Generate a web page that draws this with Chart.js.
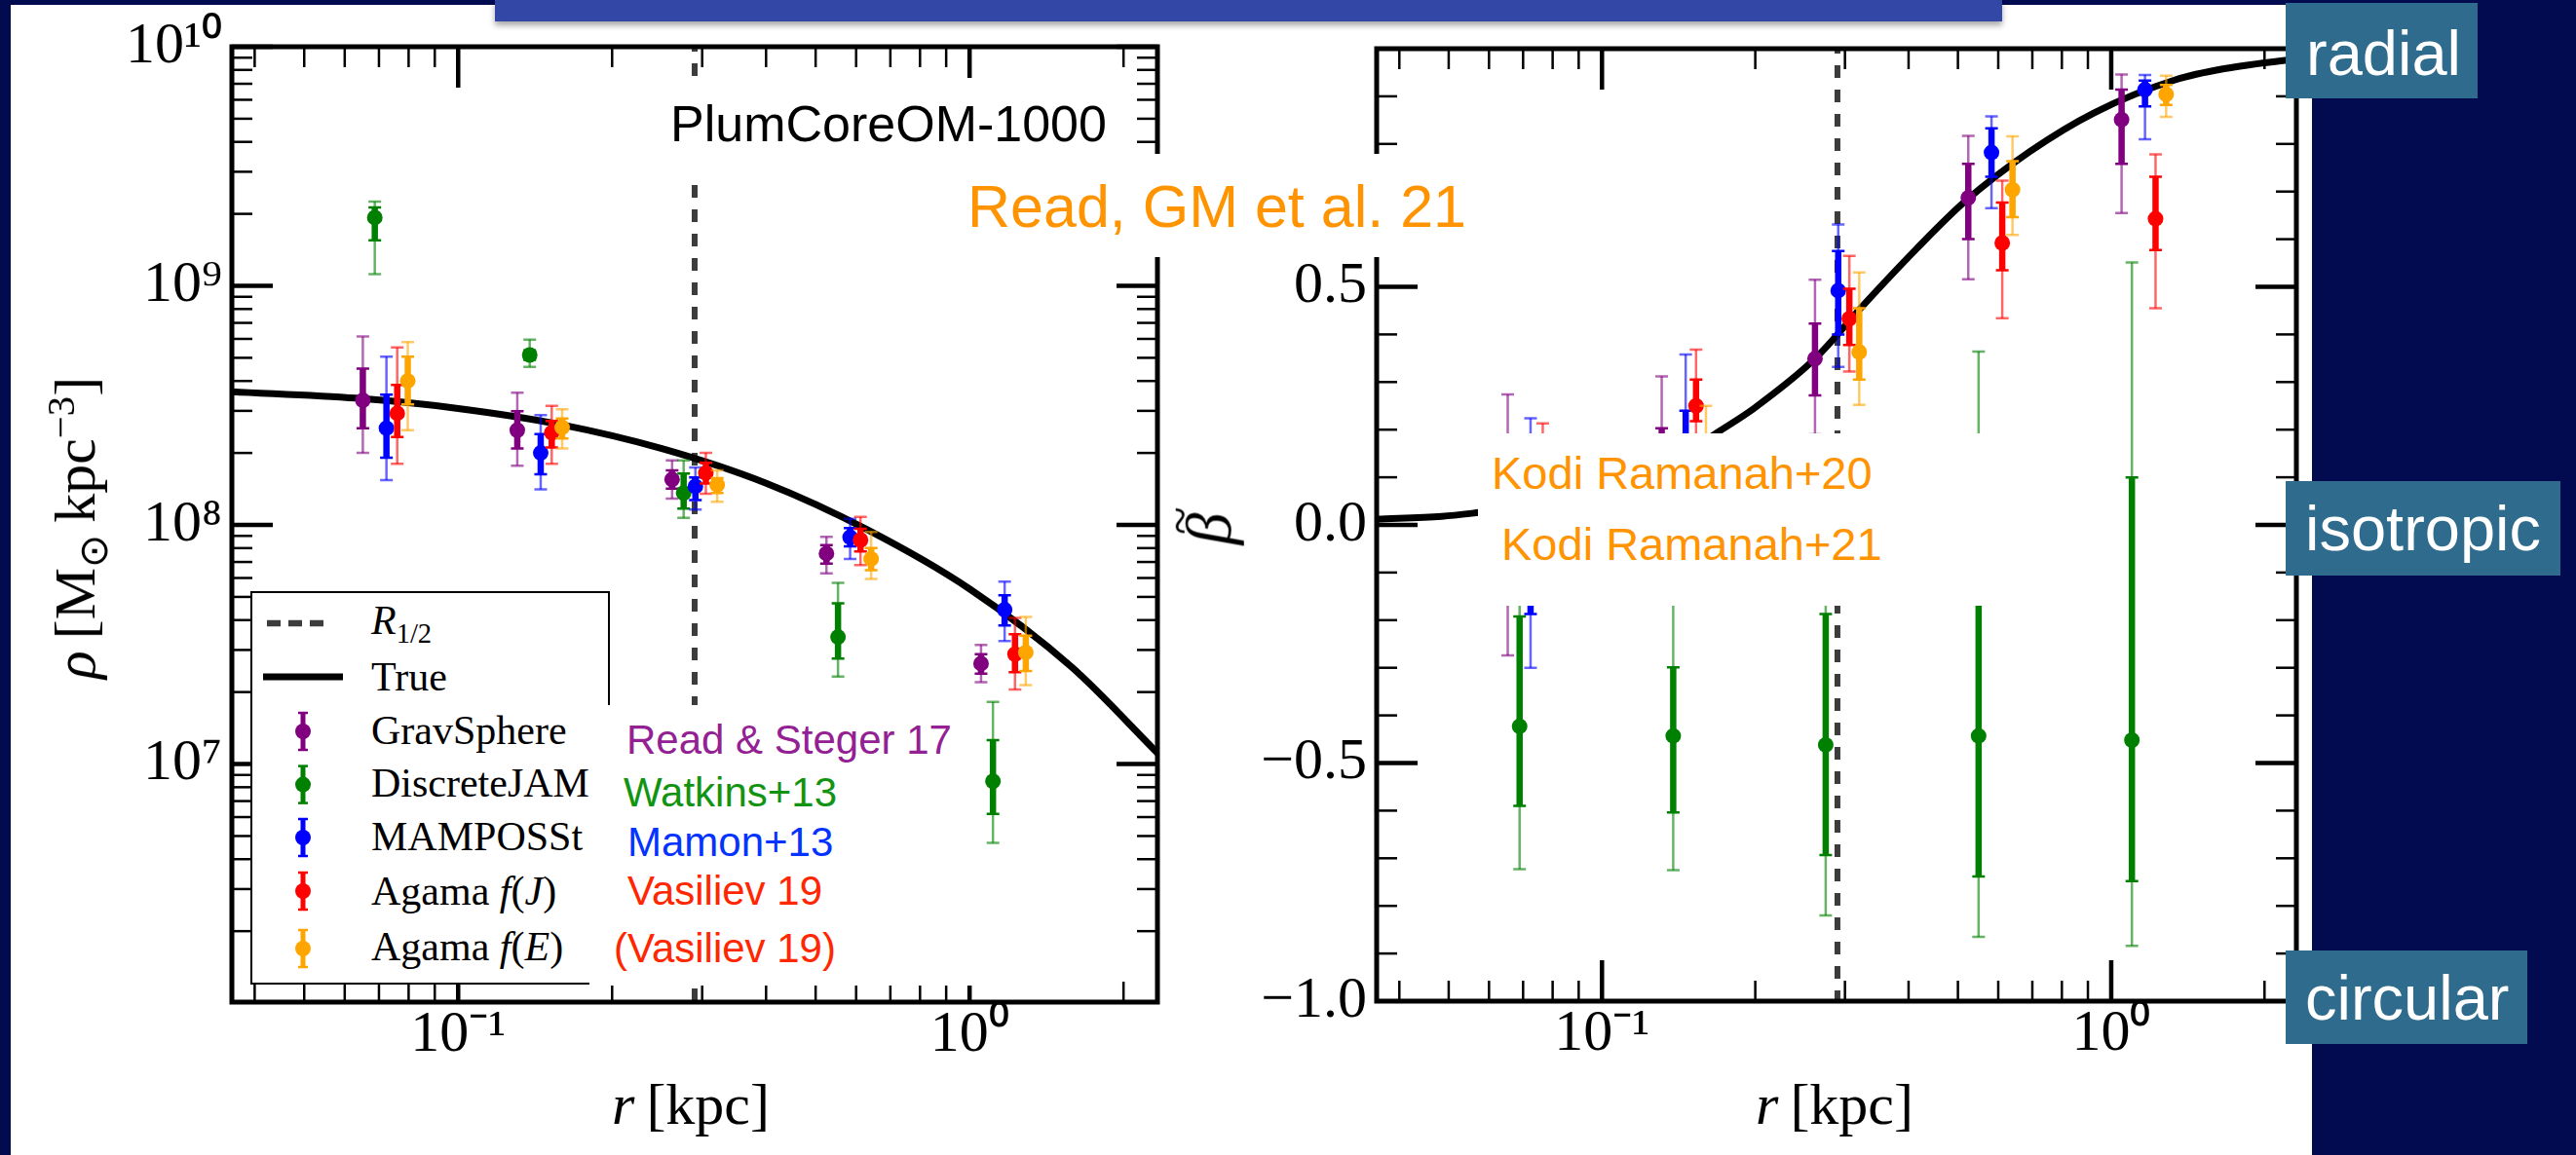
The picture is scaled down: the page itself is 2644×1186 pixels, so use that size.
<!DOCTYPE html>
<html><head><meta charset="utf-8">
<script src="https://cdn.jsdelivr.net/npm/chart.js@4.4.1/dist/chart.umd.min.js"></script>
<style>
html,body{margin:0;padding:0;}
body{width:2644px;height:1186px;overflow:hidden;position:relative;background:#fff;}
.abs{position:absolute;}
.sans{position:absolute;font-family:"Liberation Sans",Arial,sans-serif;white-space:nowrap;line-height:1;}
.serif{position:absolute;font-family:"Liberation Serif","Times New Roman",serif;white-space:nowrap;line-height:1;}
.wbox{position:absolute;background:#fff;}
.navy{position:absolute;background:#020a50;}
.teal{position:absolute;background:#2f6b8c;}
sub,sup{font-size:0.68em;line-height:0;}
i{font-style:italic;}
</style></head><body>
<canvas id="rhoChart" class="abs" width="1300" height="1186" style="left:0;top:0"></canvas>
<canvas id="betaChart" class="abs" width="1150" height="1186" style="left:1250px;top:0"></canvas>

<!-- slide frame -->
<div class="navy" style="left:0;top:0;width:11px;height:1186px"></div>
<div class="navy" style="left:0;top:0;width:2644px;height:5px"></div>
<div class="navy" style="left:2373px;top:0;width:271px;height:1186px"></div>
<div class="abs" style="left:508px;top:0;width:1547px;height:22px;background:#3247a6;box-shadow:0 4px 6px rgba(0,0,0,0.35)"></div>

<!-- teal labels -->
<div class="teal" style="left:2346px;top:3px;width:197px;height:98px"></div>
<div class="sans" style="left:2367px;top:21.7px;font-size:65px;color:#fff">radial</div>
<div class="teal" style="left:2346px;top:494px;width:282px;height:97px"></div>
<div class="sans" style="left:2366px;top:509.5px;font-size:65px;color:#fff">isotropic</div>
<div class="teal" style="left:2346px;top:976px;width:248px;height:96px"></div>
<div class="sans" style="left:2366px;top:992px;font-size:65px;color:#fff">circular</div>

<!-- text boxes -->
<div class="wbox" style="left:680px;top:80px;width:470px;height:100px"></div>
<div class="sans" style="left:688px;top:101.4px;font-size:52px;color:#000">PlumCoreOM-1000</div>
<div class="wbox" style="left:975px;top:158px;width:560px;height:106px"></div>
<div class="sans" style="left:993px;top:181.8px;font-size:61px;color:#ff9300">Read, GM et al. 21</div>
<div class="wbox" style="left:1517px;top:445px;width:590px;height:177px"></div>
<div class="sans" style="left:1531px;top:461.9px;font-size:47px;color:#ff9300">Kodi Ramanah+20</div>
<div class="sans" style="left:1541px;top:535.2px;font-size:47px;color:#ff9300">Kodi Ramanah+21</div>

<!-- legend -->
<div class="abs" style="left:257px;top:607px;width:365px;height:400px;border:2px solid #000;background:#fff"></div>
<svg class="abs" style="left:257px;top:607px" width="369" height="404" id="legIcons"></svg>
<div class="serif" style="left:381px;top:615.8px;font-size:42px"><i>R</i><sub>1/2</sub></div>
<div class="serif" style="left:381px;top:673.8px;font-size:42px">True</div>
<div id="legTexts"></div>

<!-- references box -->
<div class="wbox" style="left:605px;top:724px;width:395px;height:288px"></div>
<div class="sans" style="left:643px;top:738.7px;font-size:42px;color:#942193">Read &amp; Steger 17</div>
<div class="sans" style="left:640px;top:793.4px;font-size:42px;color:#129412">Watkins+13</div>
<div class="sans" style="left:644px;top:843.8px;font-size:42px;color:#0433ff">Mamon+13</div>
<div class="sans" style="left:644px;top:893.7px;font-size:42px;color:#ff2600">Vasiliev 19</div>
<div class="sans" style="left:630px;top:953.4px;font-size:42px;color:#ff2600">(Vasiliev 19)</div>

<!-- axis titles -->
<div class="serif" style="left:709px;top:1103.8px;font-size:60px;transform:translateX(-50%)"><i>r</i>&#8201;[kpc]</div>
<div class="serif" style="left:1883px;top:1103.8px;font-size:60px;transform:translateX(-50%)"><i>r</i>&#8201;[kpc]</div>
<div class="serif" style="left:77px;top:542px;font-size:60px;transform:translate(-50%,-50%) rotate(-90deg)"><i>ρ</i>&#8201;[M<sub>⊙</sub>&#8201;kpc<sup>−3</sup>]</div>
<div class="serif" style="left:1232px;top:543px;font-size:66px;transform:translate(-50%,-50%) rotate(-90deg)"><span style="position:relative;display:inline-block;padding-top:0.25em"><i>β</i><span style="position:absolute;left:0.2em;top:-0.12em;font-size:0.8em">~</span></span></div>

<script>
// ---------------- data ----------------
const methodNames = ['GravSphere', 'DiscreteJAM', 'MAMPOSSt', 'Agama f(J)', 'Agama f(E)'];

// density panel rows: [r (kpc), rho, inner lo, inner hi, outer lo, outer hi]
const rhoGravSphere = [
  [0.0651, 3.32e8, 2.54e8, 4.51e8, 2.00e8, 6.14e8],
  [0.1305, 2.49e8, 2.09e8, 2.99e8, 1.77e8, 3.57e8],
  [0.262, 1.55e8, 1.42e8, 1.69e8, 1.29e8, 1.86e8],
  [0.525, 7.59e7, 6.89e7, 8.24e7, 6.27e7, 8.91e7],
  [1.053, 2.63e7, 2.39e7, 2.88e7, 2.20e7, 3.15e7]
];
const rhoDiscreteJAM = [
  [0.0687, 1.93e9, 1.55e9, 2.13e9, 1.12e9, 2.25e9],
  [0.138, 5.14e8, 4.90e8, 5.37e8, 4.58e8, 5.96e8],
  [0.276, 1.36e8, 1.17e8, 1.64e8, 1.07e8, 1.86e8],
  [0.553, 3.40e7, 2.76e7, 4.70e7, 2.32e7, 5.73e7],
  [1.111, 8.47e6, 6.19e6, 1.26e7, 4.68e6, 1.82e7]
];
const rhoMAMPOSSt = [
  [0.0724, 2.54e8, 1.91e8, 3.51e8, 1.54e8, 5.05e8],
  [0.145, 2.00e8, 1.63e8, 2.40e8, 1.41e8, 2.88e8],
  [0.291, 1.45e8, 1.27e8, 1.58e8, 1.16e8, 1.74e8],
  [0.584, 8.89e7, 8.13e7, 9.70e7, 7.21e7, 1.06e8],
  [1.171, 4.42e7, 3.80e7, 5.08e7, 3.27e7, 5.79e7]
];
const rhoAgamaFJ = [
  [0.076, 2.93e8, 2.33e8, 3.85e8, 1.80e8, 5.52e8],
  [0.1524, 2.43e8, 2.11e8, 2.72e8, 1.80e8, 3.15e8],
  [0.305, 1.65e8, 1.49e8, 1.82e8, 1.35e8, 2.00e8],
  [0.612, 8.65e7, 7.74e7, 9.64e7, 6.79e7, 1.08e8],
  [1.227, 2.88e7, 2.42e7, 3.49e7, 2.05e7, 4.08e7]
];
const rhoAgamaFE = [
  [0.0797, 4.00e8, 3.19e8, 5.06e8, 2.49e8, 5.82e8],
  [0.1597, 2.56e8, 2.30e8, 2.79e8, 2.09e8, 3.05e8],
  [0.321, 1.47e8, 1.36e8, 1.57e8, 1.25e8, 1.69e8],
  [0.642, 7.21e7, 6.47e7, 8.00e7, 5.94e7, 9.35e7],
  [1.288, 2.93e7, 2.45e7, 3.44e7, 2.14e7, 4.12e7]
];
const trueRhoR = [0.0361, 0.0631, 0.1, 0.1585, 0.2512, 0.3981, 0.631, 1.0, 1.585, 2.333];
const trueRho  = [3.61e8, 3.39e8, 3.07e8, 2.63e8, 2.08e8, 1.50e8, 9.55e7, 5.40e7, 2.54e7, 1.11e7];

// anisotropy panel rows: [r (kpc), beta, inner lo, inner hi, outer lo, outer hi]
const betaGravSphere = [
  [0.0653, 0.00, -0.12, 0.12, -0.274, 0.274],
  [0.131, 0.08, -0.04, 0.203, -0.14, 0.312],
  [0.262, 0.349, 0.272, 0.423, 0.19, 0.515],
  [0.524, 0.687, 0.600, 0.758, 0.516, 0.817],
  [1.048, 0.851, 0.758, 0.914, 0.655, 0.946]
];
const betaDiscreteJAM = [
  [0.0689, -0.423, -0.590, -0.192, -0.723, -0.10],
  [0.138, -0.443, -0.604, -0.299, -0.725, -0.14],
  [0.275, -0.462, -0.693, -0.187, -0.820, -0.08],
  [0.549, -0.443, -0.738, -0.10, -0.865, 0.364],
  [1.098, -0.452, -0.748, 0.0995, -0.884, 0.551]
];
const betaMAMPOSSt = [
  [0.0724, -0.04, -0.187, 0.10, -0.300, 0.224],
  [0.146, 0.14, 0.04, 0.240, -0.08, 0.358],
  [0.291, 0.492, 0.40, 0.575, 0.332, 0.631],
  [0.582, 0.782, 0.731, 0.833, 0.665, 0.858],
  [1.165, 0.914, 0.879, 0.933, 0.810, 0.945]
];
const betaAgamaFJ = [
  [0.0765, 0.05, -0.05, 0.14, -0.12, 0.213],
  [0.153, 0.250, 0.218, 0.305, 0.14, 0.368],
  [0.306, 0.433, 0.378, 0.496, 0.322, 0.565],
  [0.611, 0.592, 0.535, 0.677, 0.434, 0.723],
  [1.222, 0.643, 0.577, 0.731, 0.455, 0.778]
];
const betaAgamaFE = [
  [0.080, 0.04, -0.04, 0.12, -0.10, 0.17],
  [0.160, 0.12, 0.06, 0.18, -0.01, 0.250],
  [0.320, 0.363, 0.305, 0.455, 0.252, 0.530],
  [0.640, 0.704, 0.646, 0.764, 0.609, 0.816],
  [1.282, 0.904, 0.882, 0.924, 0.857, 0.943]
];
const trueBetaR = [0.0361, 0.0485, 0.0574, 0.07, 0.1, 0.13, 0.169, 0.199, 0.262, 0.327, 0.414, 0.516, 0.692, 0.928, 1.34, 1.667, 2.21, 2.31];
const trueBeta  = [0.012, 0.018, 0.026, 0.037, 0.07, 0.115, 0.195, 0.245, 0.349, 0.463, 0.579, 0.679, 0.784, 0.866, 0.935, 0.958, 0.976, 0.978];

const rHalf = 0.29;
const rRangeRho = [0.0361, 2.33];
const rRangeBeta = [0.0361, 2.31];
const rhoRange = [1.01e6, 1e10];
const betaRange = [-1, 1];

const rTickValues = [0.1, 1];
const rTickLabels = ['10\u207B\u00B9', '10\u2070'];
const rhoTickValues = [1e7, 1e8, 1e9, 1e10];
const rhoTickLabels = ['10\u2077', '10\u2078', '10\u2079', '10\u00B9\u2070'];
const betaTickValues = [-1, -0.5, 0, 0.5];
const betaTickLabels = ['\u22121.0', '\u22120.5', '0.0', '0.5'];

// ---------------- styles ----------------
const methodColors = ['#800080', '#008000', '#0000ff', '#ff0000', '#ffa500'];
const methodFaint  = ['rgba(128,0,128,0.6)', 'rgba(0,128,0,0.6)', 'rgba(0,0,255,0.6)', 'rgba(255,0,0,0.6)', 'rgba(255,165,0,0.6)'];

// minor tick positions (axis decoration)
const logMinor = (lo, hi) => { const a = []; for (let e = lo; e <= hi; e++) for (let m = 2; m <= 9; m++) a.push(m * Math.pow(10, e)); return a; };
const rMinor = logMinor(-2, 0).filter(v => v > 0.0361 && v < 2.33);
const rhoMinor = logMinor(6, 9);
const betaMinor = []; for (let k = -9; k <= 9; k++) if (k % 5 !== 0) betaMinor.push(k / 10);
const betaMajor = [-0.5, 0, 0.5];

const errorBars = {
  id: 'errorBars',
  beforeDatasetDraw(chart, args) {
    const ds = chart.data.datasets[args.index];
    if (!ds.rows) return;
    const {ctx, chartArea: a} = chart;
    const xs = chart.scales.x, ys = chart.scales.y;
    ctx.save();
    ctx.beginPath(); ctx.rect(a.left, a.top, a.right - a.left, a.bottom - a.top); ctx.clip();
    const bar = (px, lo, hi, col, w) => {
      const y1 = ys.getPixelForValue(lo), y2 = ys.getPixelForValue(hi);
      ctx.strokeStyle = col; ctx.lineCap = 'butt';
      ctx.lineWidth = w; ctx.beginPath(); ctx.moveTo(px, y1); ctx.lineTo(px, y2); ctx.stroke();
      ctx.lineWidth = 2.5; ctx.beginPath();
      ctx.moveTo(px - 6.5, y1); ctx.lineTo(px + 6.5, y1);
      ctx.moveTo(px - 6.5, y2); ctx.lineTo(px + 6.5, y2); ctx.stroke();
    };
    ds.rows.forEach(row => {
      const px = xs.getPixelForValue(row[0]);
      bar(px, row[4], row[5], ds.faint, 2.5);
      bar(px, row[2], row[3], ds.solid, 6.5);
    });
    ctx.restore();
  }
};

function frameTicks(xMaj, xMin, yMaj, yMin) {
  return {
    id: 'frameTicks',
    afterDatasetsDraw(chart) {
      const {ctx, chartArea: a, scales: {x, y}} = chart;
      ctx.save();
      ctx.strokeStyle = '#000'; ctx.lineCap = 'butt';
      const seg = (x1, y1, x2, y2, w) => { ctx.lineWidth = w; ctx.beginPath(); ctx.moveTo(x1, y1); ctx.lineTo(x2, y2); ctx.stroke(); };
      const xt = (v, L, w) => { const p = x.getPixelForValue(v); seg(p, a.bottom, p, a.bottom - L, w); seg(p, a.top, p, a.top + L, w); };
      const yt = (v, L, w) => { const p = y.getPixelForValue(v); seg(a.left, p, a.left + L, p, w); seg(a.right, p, a.right - L, p, w); };
      xMin.forEach(v => xt(v, 21, 2.5));
      xMaj.forEach(v => xt(v, 42, 4.5));
      yMin.forEach(v => yt(v, 21, 2.5));
      yMaj.forEach(v => yt(v, 42, 4.5));
      ctx.lineWidth = 5;
      ctx.strokeRect(a.left, a.top, a.right - a.left, a.bottom - a.top);
      ctx.restore();
    }
  };
}

function buildDatasets(groups, trueX, trueY, yRange) {
  const ds = [];
  groups.forEach((rows, i) => ds.push({
    label: methodNames[i],
    rows: rows, solid: methodColors[i], faint: methodFaint[i],
    data: rows.map(r => ({x: r[0], y: r[1]})),
    showLine: false, pointRadius: 8, pointHoverRadius: 8,
    pointBackgroundColor: methodColors[i], pointBorderWidth: 0,
    order: 5 - i
  }));
  ds.push({
    label: 'True', data: trueX.map((r, k) => ({x: r, y: trueY[k]})),
    showLine: true, borderColor: '#000', borderWidth: 7, pointRadius: 0,
    cubicInterpolationMode: 'monotone', order: 10
  });
  ds.push({
    label: 'R1/2', data: [{x: rHalf, y: yRange[1]}, {x: rHalf, y: yRange[0]}],
    showLine: true, borderColor: '#3c3c3c', borderWidth: 6, borderDash: [13, 12], borderDashOffset: 8,
    pointRadius: 0, order: 11
  });
  return ds;
}

const tickFont = {family: '"Liberation Serif","Times New Roman",serif', size: 60, lineHeight: 1};

function makeChart(id, datasets, xr, yr, yType, xTicks, xLabels, yTicks, yLabels, pad, yW, xH, minors) {
  return new Chart(document.getElementById(id), {
    type: 'scatter',
    data: {datasets},
    options: {
      responsive: false, animation: false, events: [],
      layout: {padding: pad},
      plugins: {legend: {display: false}, tooltip: {enabled: false}},
      scales: {
        x: {
          type: 'logarithmic', min: xr[0], max: xr[1],
          grid: {display: false, drawTicks: false}, border: {display: false},
          afterBuildTicks: s => { s.ticks = xTicks.map(v => ({value: v})); },
          afterFit: s => { s.height = xH; },
          ticks: {autoSkip: false, maxRotation: 0, padding: 4, color: '#000', font: tickFont,
                  callback: (v, i) => xLabels[i]}
        },
        y: {
          type: yType, min: yr[0], max: yr[1],
          grid: {display: false, drawTicks: false}, border: {display: false},
          afterBuildTicks: s => { s.ticks = yTicks.map(v => ({value: v})); },
          afterFit: s => { s.width = yW; },
          ticks: {autoSkip: false, padding: 10, color: '#000', font: tickFont,
                  callback: (v, i) => yLabels[i]}
        }
      }
    },
    plugins: [errorBars, frameTicks(minors[0], minors[1], minors[2], minors[3])]
  });
}

makeChart('rhoChart',
  buildDatasets([rhoGravSphere, rhoDiscreteJAM, rhoMAMPOSSt, rhoAgamaFJ, rhoAgamaFE], trueRhoR, trueRho, rhoRange),
  rRangeRho, rhoRange, 'logarithmic', rTickValues, rTickLabels, rhoTickValues, rhoTickLabels,
  {top: 48, right: 112, left: 0, bottom: 0}, 238, 157,
  [rTickValues, rMinor, rhoTickValues, rhoMinor]);

makeChart('betaChart',
  buildDatasets([betaGravSphere, betaDiscreteJAM, betaMAMPOSSt, betaAgamaFJ, betaAgamaFE], trueBetaR, trueBeta, betaRange),
  rRangeBeta, betaRange, 'linear', rTickValues, rTickLabels, betaTickValues, betaTickLabels,
  {top: 50, right: 43, left: 0, bottom: 0}, 163, 158,
  [rTickValues, rMinor, betaMajor, betaMinor]);

// ---------------- legend ----------------
(function () {
  const svg = document.getElementById('legIcons');
  const NS = 'http://www.w3.org/2000/svg';
  const el = (tag, attrs) => { const e = document.createElementNS(NS, tag); for (const k in attrs) e.setAttribute(k, attrs[k]); svg.appendChild(e); return e; };
  el('line', {x1: 17, y1: 33, x2: 79, y2: 33, stroke: '#3c3c3c', 'stroke-width': 6.5, 'stroke-dasharray': '14 8'});
  el('line', {x1: 13, y1: 88, x2: 95, y2: 88, stroke: '#000', 'stroke-width': 7});
  const iconY = [144, 198.6, 253, 308, 367];
  const textTop = [728.8, 783.4, 838.1, 894.1, 950.8];
  const labelsHtml = ['GravSphere', 'DiscreteJAM', 'MAMPOSSt', 'Agama <i>f</i>(<i>J</i>)', 'Agama <i>f</i>(<i>E</i>)'];
  const holder = document.getElementById('legTexts');
  methodNames.forEach((n, i) => {
    const cy = iconY[i], c = methodColors[i];
    el('line', {x1: 54, y1: cy - 19, x2: 54, y2: cy + 19, stroke: c, 'stroke-width': 5});
    el('line', {x1: 49, y1: cy - 19, x2: 59, y2: cy - 19, stroke: c, 'stroke-width': 2.5});
    el('line', {x1: 49, y1: cy + 19, x2: 59, y2: cy + 19, stroke: c, 'stroke-width': 2.5});
    el('circle', {cx: 54, cy: cy, r: 8, fill: c});
    const d = document.createElement('div');
    d.className = 'serif';
    d.style.left = '381px'; d.style.top = textTop[i] + 'px'; d.style.fontSize = '42px';
    d.innerHTML = labelsHtml[i];
    holder.appendChild(d);
  });
})();
</script>
</body></html>
